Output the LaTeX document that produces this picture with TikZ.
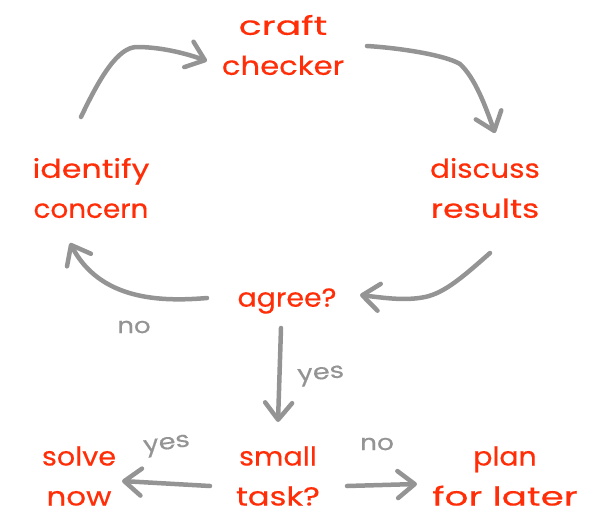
\documentclass[tikz,border=0pt]{standalone}
\usepackage{fontspec}
\usepackage{graphicx}
\setmainfont{Poppins}[FakeBold=0.4]
\usetikzlibrary{arrows.meta,calc}
\definecolor{inkred}{HTML}{FF2E08}
\definecolor{inkgray}{HTML}{949494}
\newcommand{\wline}[2]{\scalebox{#1}[1]{#2}}
\tikzset{
  stepnode/.style={text=inkred,align=center,inner sep=0pt,font=\fontsize{26}{40}\selectfont},
  edgelabel/.style={text=inkgray,inner sep=0pt,font=\fontsize{22}{26}\selectfont},
  flow/.style={draw=inkgray,line width=4.5pt,line cap=round,line join=round,
    -{Straight Barb[length=17pt,width=27pt,line width=4.5pt,round]}},
}
\begin{document}
\begin{tikzpicture}[x=1pt,y=-1pt]
\useasboundingbox (0,0) rectangle (605,515);
\node[stepnode] (craft) at (283,45) {\wline{1.45}{craft}\\\wline{1.18}{checker}};
\node[stepnode] (identify) at (91,188) {\wline{1.22}{identify}\\\wline{1.07}{concern}};
\node[stepnode] (discuss) at (485,188) {\wline{1.13}{discuss}\\\wline{1.27}{results}};
\node[stepnode] (agree) at (287,301) {\wline{1.09}{agree?}};
\node[stepnode] (small) at (278,476) {\wline{1.1}{small}\\\wline{1.24}{task?}};
\node[stepnode] (solve) at (79,476) {\wline{1.1}{solve}\\\wline{1.19}{now}};
\node[stepnode] (plan) at (505,476) {\wline{1.09}{plan}\\\wline{1.44}{for later}};
\node[edgelabel] (lno) at (134,327) {\wline{1.18}{no}};
\node[edgelabel,rotate=5] (lyes) at (321,376) {\wline{1.24}{yes}};
\node[edgelabel,rotate=8] (lyes2) at (167,446) {\wline{1.24}{yes}};
\node[edgelabel] (lno2) at (377,444) {\wline{1.2}{no}};
\draw[flow] ($(identify.center)+(-10,-71)$) .. controls (100,77) and (118,47) .. (137,47) .. controls (160,47) and (185,53) .. ($(craft.center)+(-76,16)$);
\draw[flow] ($(craft.center)+(84,1)$) .. controls (400,48) and (445,55) .. (460,64) .. controls (475,78) and (485,105) .. ($(discuss.center)+(10,-55)$);
\draw[flow] ($(discuss.center)+(5,65)$) .. controls (465,275) and (445,293) .. (425,297) .. controls (405,301) and (385,298) .. ($(agree.center)+(73,-6)$);
\draw[flow] ($(agree.center)+(-80,-3)$) .. controls (160,302) and (100,300) .. ($(identify.center)+(-21,55)$);
\draw[flow] ($(agree.center)+(-6,27)$) -- ($(small.center)+(0,-54)$);
\draw[flow] ($(small.center)+(-68,10)$) -- ($(solve.center)+(43,5)$);
\draw[flow] ($(small.center)+(69,10)$) -- ($(plan.center)+(-88,8)$);
\end{tikzpicture}
\end{document}
